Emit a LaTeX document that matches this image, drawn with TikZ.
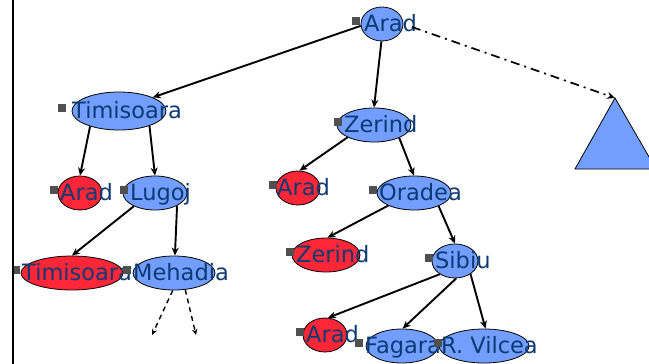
\documentclass[tikz,border=0pt]{standalone}
\usepackage{fontspec}
\setmainfont{DejaVu Sans}
\usetikzlibrary{arrows.meta,shapes.geometric,calc}
\definecolor{nodeblue}{RGB}{114,158,255}
\definecolor{nodered}{RGB}{255,38,56}
\definecolor{txtblue}{RGB}{12,58,115}
\definecolor{bulletgray}{RGB}{80,80,80}
\tikzset{
  st/.style={ellipse, draw=black, line width=0.8pt, inner sep=0pt},
  bst/.style={st, fill=nodeblue},
  rst/.style={st, fill=nodered},
  lbl/.style={anchor=base west, inner sep=0pt, text=txtblue, font=\fontsize{22.5}{26}\selectfont},
  bul/.style={anchor=north west, fill=bulletgray, minimum size=8pt, inner sep=0pt},
  arr/.style={line width=1.9pt, -{Stealth[length=8pt,width=7pt]}},
  dasharr/.style={line width=1.4pt, dash pattern=on 5pt off 4pt, -{Stealth[length=6pt,width=5.5pt]}},
  dashdotarr/.style={line width=1.7pt, dash pattern=on 9pt off 5pt on 2pt off 5pt, -{Stealth[length=8pt,width=7pt]}},
}
\newcommand\treenode[9]{%
  \node[#2, minimum width={2*#5pt}, minimum height={2*#6pt}] (#1) at (#3,#4) {};
  \node[bul] (#1b) at (#9,#4-7) {};
  \node[lbl] (#1t) at (#8,#4+7) {#7};
}
\begin{document}
\begin{tikzpicture}[x=1pt,y=-1pt]
\useasboundingbox (0,0) rectangle (649,364);
\clip (0,0) rectangle (649,364);
\fill[white] (0,0) rectangle (649,364);

% triangle
\draw[fill=nodeblue, line width=0.8pt] (615,98) coordinate (tri) -- (656,169) coordinate (trir) -- (575,169) coordinate (tril) -- cycle;

% nodes
\treenode{arad0}{bst}{382}{24}{21}{17}{Arad}{364}{352}
\treenode{tim1}{bst}{119}{111}{47}{19}{Timisoara}{72}{58}
\treenode{zer1}{bst}{374}{125}{37}{17}{Zerind}{344}{334}
\treenode{ar2a}{rst}{80}{193}{22}{17}{Arad}{60}{50}
\treenode{lug2}{bst}{155}{193}{32}{17}{Lugoj}{130}{120}
\treenode{ar2b}{rst}{298}{188}{22}{17}{Arad}{277}{269}
\treenode{ora2}{bst}{414}{193}{37}{17}{Oradea}{379}{369}
\treenode{tim3}{rst}{72}{273}{51}{17}{Timisoara}{22}{12}
\treenode{meh3}{bst}{174}{273}{41}{17}{Mehadia}{133}{123}
\treenode{zer3}{rst}{326}{255}{34}{17}{Zerind}{296}{286}
\treenode{sib3}{bst}{455}{261}{23}{17}{Sibiu}{435}{425}
\treenode{ar4}{rst}{325}{335}{22}{17}{Arad}{306}{296}
\treenode{fag4}{bst}{402}{346}{36}{17}{Fagaras}{365}{355}
\treenode{rvil4}{bst}{484}{346}{45}{17}{R. Vilcea}{441}{434}

\coordinate (d1) at (152,335);
\coordinate (d2) at (196,335);

% edges
\draw[arr] (arad0.185) -- (tim1.22);
\draw[arr] (arad0.268) -- (zer1.90);
\draw[dashdotarr, shorten <=9pt] (arad0.east) -- (tri);
\draw[arr] (tim1.208) -- (ar2a.90);
\draw[arr] (tim1.334) -- (lug2.90);
\draw[arr] (zer1.205) -- (ar2b.85);
\draw[arr] (zer1.333) -- (ora2.90);
\draw[arr] (lug2.212) -- (tim3.90);
\draw[arr] (lug2.330) -- (meh3.87);
\draw[arr] (ora2.206) -- (zer3.85);
\draw[arr] (ora2.332) -- (sib3.90);
\draw[arr] (sib3.221) -- (ar4.80);
\draw[arr] (sib3.274) -- (fag4.88);
\draw[arr] (sib3.320) -- (rvil4.85);
\draw[dasharr] (meh3.266) -- (d1);
\draw[dasharr] (meh3.304) -- (d2);

% left rule
\draw[line width=2.5pt] (13,0) -- (13,364);
\end{tikzpicture}
\end{document}
